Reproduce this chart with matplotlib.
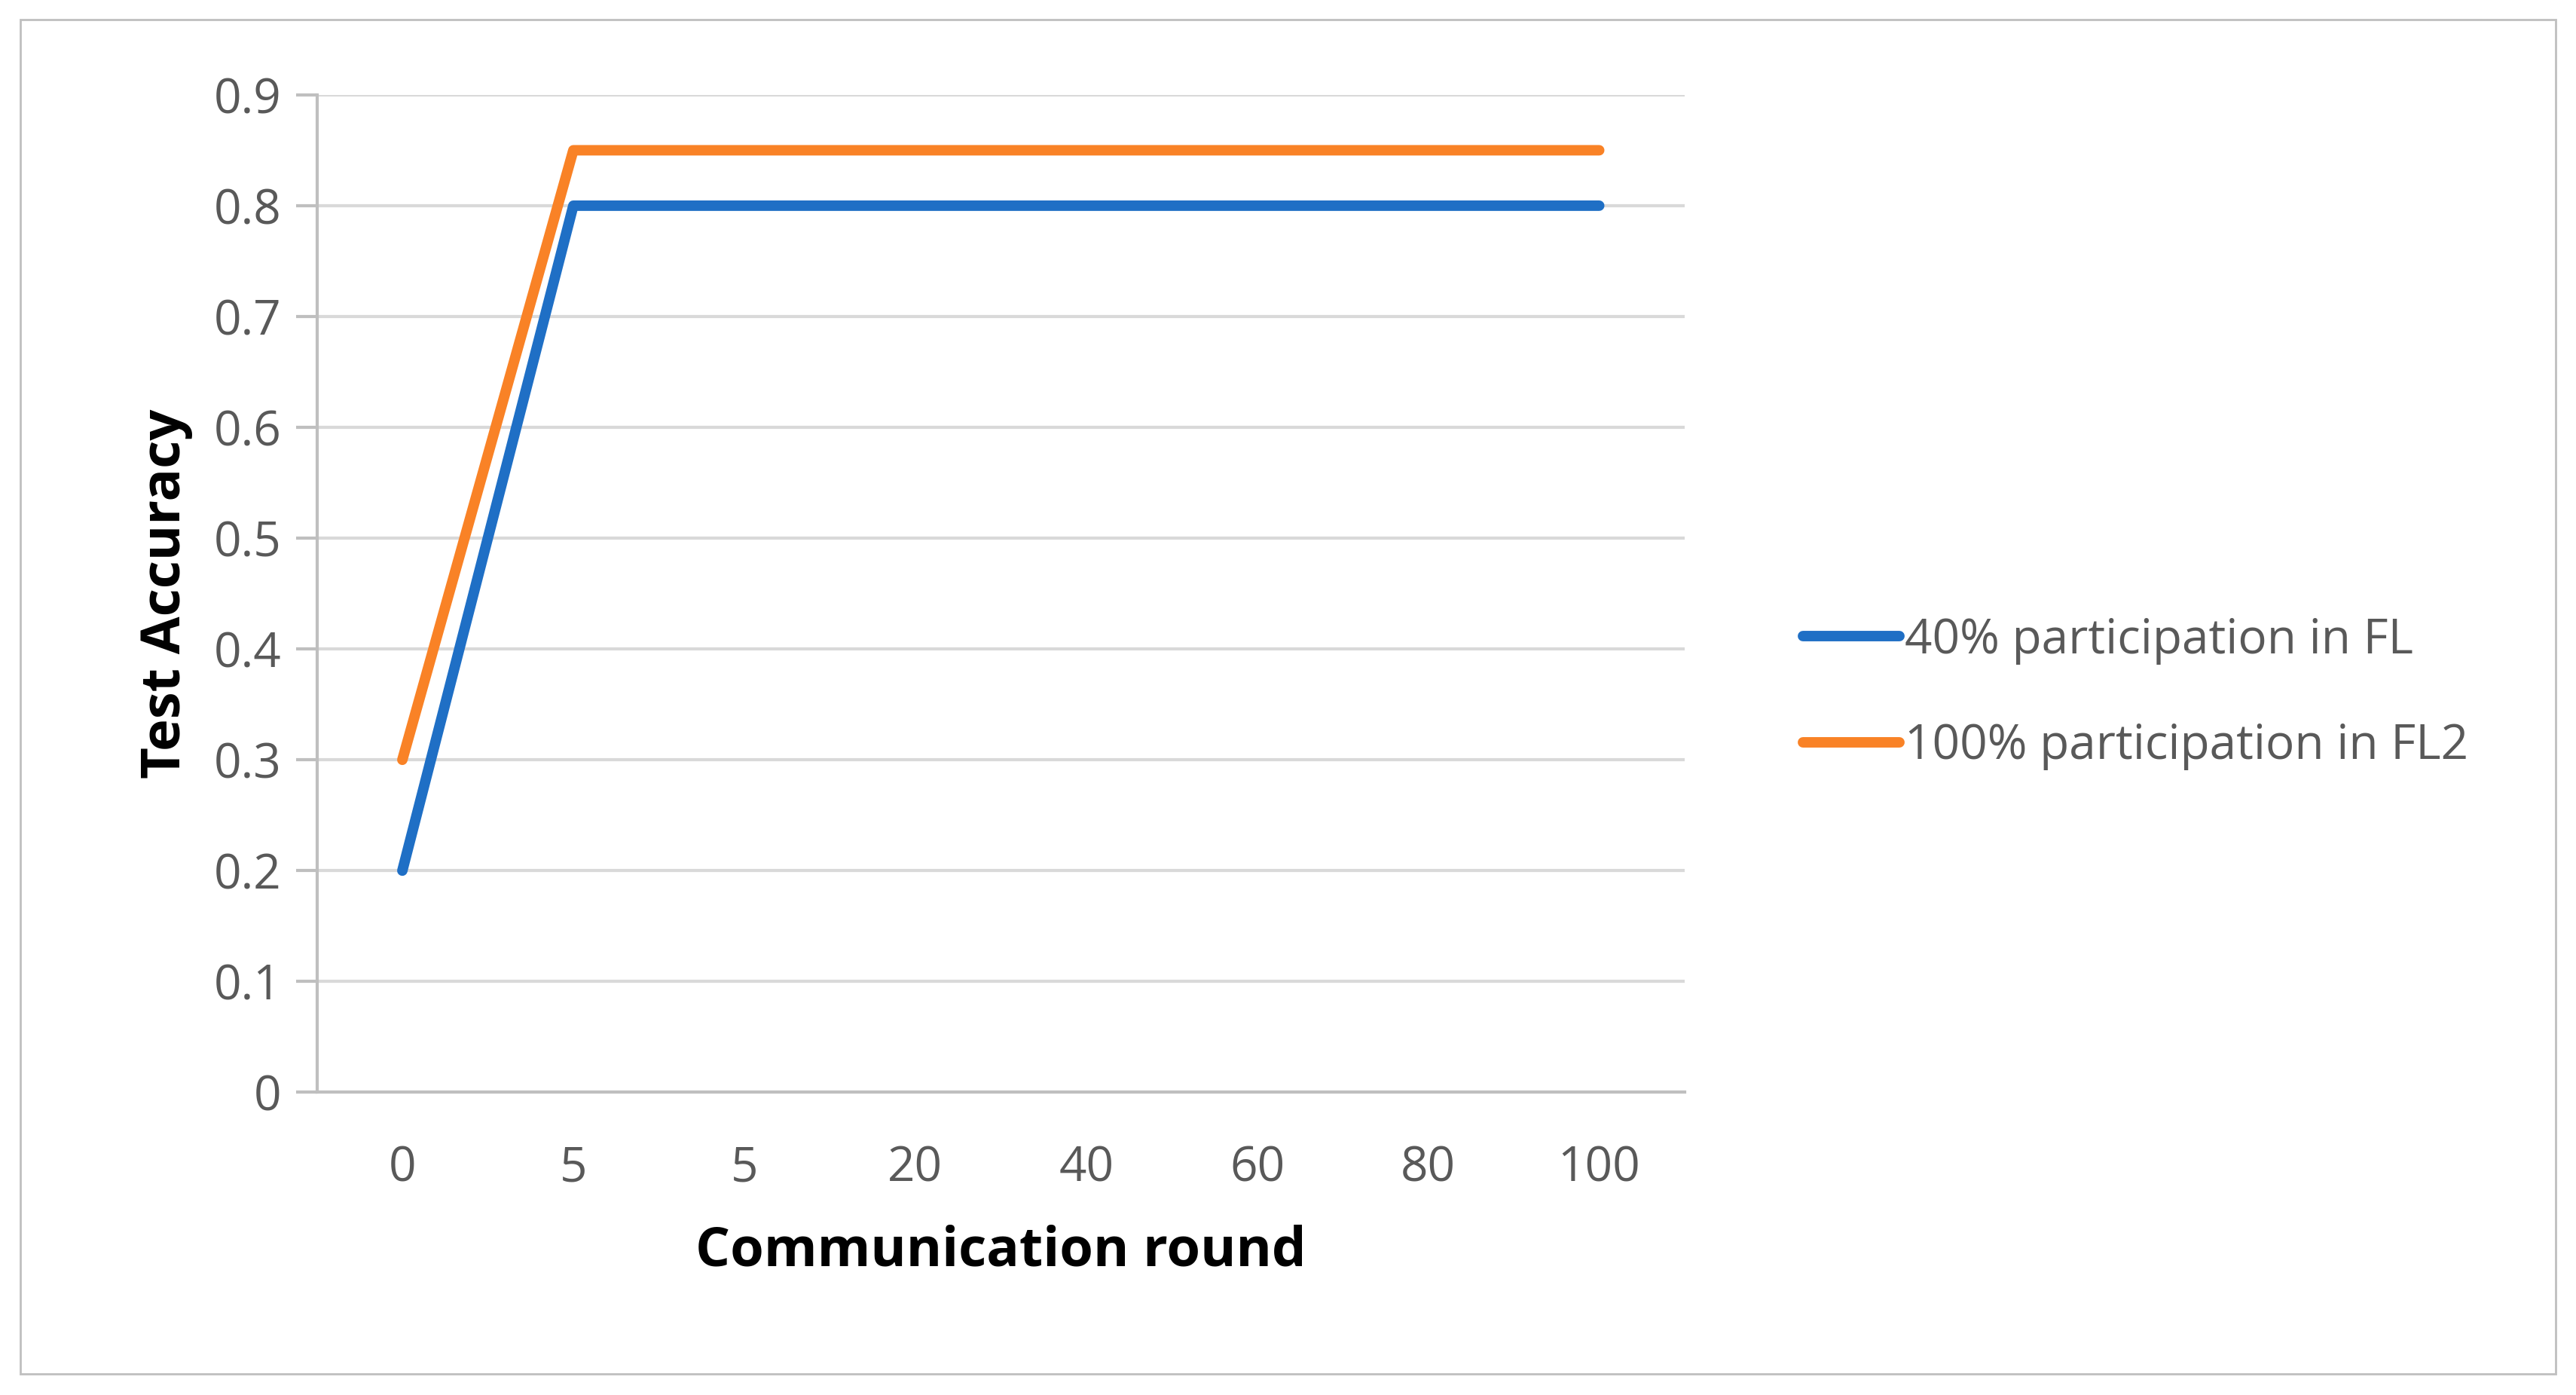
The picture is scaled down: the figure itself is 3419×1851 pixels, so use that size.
import matplotlib
matplotlib.use('Agg')
import matplotlib.pyplot as plt
from matplotlib.patches import Rectangle

rounds = ['0', '5', '5', '20', '40', '60', '80', '100']
acc_40 = [0.2, 0.8, 0.8, 0.8, 0.8, 0.8, 0.8, 0.8]
acc_100 = [0.3, 0.85, 0.85, 0.85, 0.85, 0.85, 0.85, 0.85]

plt.rcParams['font.family'] = ['Open Sans', 'DejaVu Sans']
grey = '#595959'

fig = plt.figure(figsize=(34.19, 18.51), dpi=100)
fig.patches.append(Rectangle((0.008, 0.015), 0.984, 0.971, transform=fig.transFigure,
                             fill=False, edgecolor='#bfbfbf', linewidth=2))
ax = fig.add_axes([0.123, 0.217, 0.531, 0.715])

x = list(range(len(rounds)))
ax.plot(x, acc_40, color='#1f6fc5', linewidth=10, solid_capstyle='round',
        label='40% participation in FL')
ax.plot(x, acc_100, color='#f98226', linewidth=10, solid_capstyle='round',
        label='100% participation in FL2')

ax.set_xlim(-0.5, len(rounds) - 0.5)
ax.set_ylim(0, 0.9)
ax.set_yticks([i / 10 for i in range(10)])
ax.set_yticklabels(['0'] + [f'{i/10:.1f}' for i in range(1, 10)])
ax.set_xticks(x)
ax.set_xticklabels(rounds)
ax.grid(axis='y', color='#d9d9d9', linewidth=3)
ax.set_axisbelow(True)
for s in ['top', 'right']:
    ax.spines[s].set_visible(False)
for s in ['left', 'bottom']:
    ax.spines[s].set_color('#bfbfbf')
    ax.spines[s].set_linewidth(3)
ax.tick_params(axis='y', labelsize=46, labelcolor=grey, color='#bfbfbf', width=3, length=20, pad=14)
ax.tick_params(axis='x', labelsize=46, labelcolor=grey, length=0, pad=50)

ax.set_xlabel('Communication round', fontsize=52, fontweight='bold', labelpad=30)
ax.set_ylabel('Test Accuracy', fontsize=52, fontweight='bold', labelpad=20)

ax.legend(loc='center left', bbox_to_anchor=(1.055, 0.40), frameon=False,
          fontsize=46, labelcolor=grey, handlelength=2.0, handletextpad=0.1,
          labelspacing=1.2)

fig.savefig('out.png', dpi=100)
